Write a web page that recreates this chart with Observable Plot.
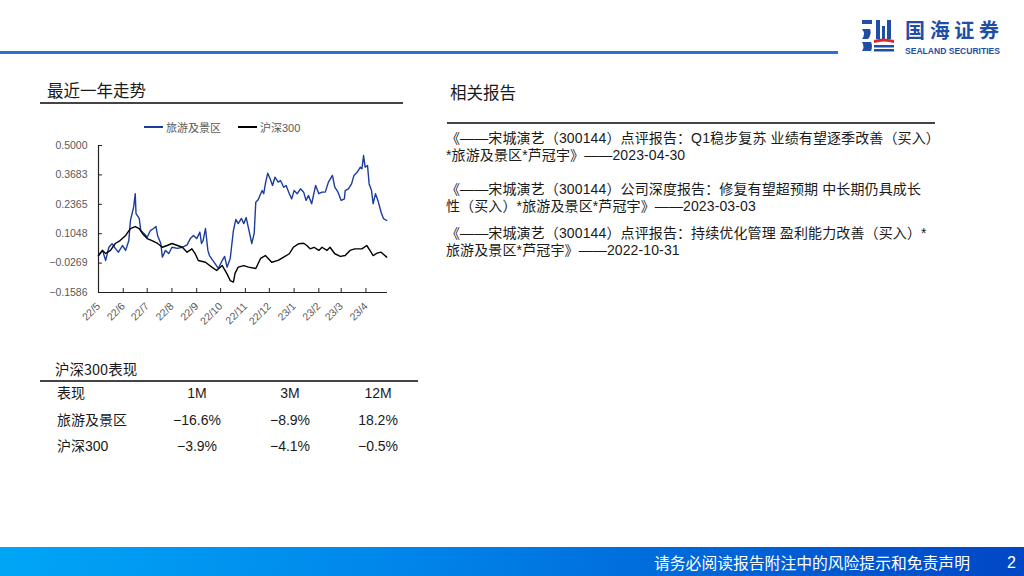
<!DOCTYPE html>
<html><head><meta charset="utf-8">
<script src="https://cdn.jsdelivr.net/npm/d3@7"></script>
<script src="https://cdn.jsdelivr.net/npm/@observablehq/plot@0.6"></script>
<style>
body{margin:0;width:1024px;height:576px;position:relative;overflow:hidden;background:#fff;font-family:"Liberation Sans","Noto Sans CJK SC",sans-serif;color:#1a1a1a;}
.abs{position:absolute;white-space:nowrap;}
.rep div{height:16.5px;line-height:16.5px;font-size:14px;}
</style></head><body>
<script>
// ---- data ----
const seriesNames = ["旅游及景区", "沪深300"];
const tourDates = ["2022-05-01","2022-05-06","2022-05-10","2022-05-14","2022-05-18","2022-05-22","2022-05-26","2022-05-31","2022-06-04","2022-06-08","2022-06-10","2022-06-14","2022-06-16","2022-06-17","2022-06-21","2022-06-23","2022-06-27","2022-07-01","2022-07-05","2022-07-09","2022-07-12","2022-07-14","2022-07-18","2022-07-20","2022-07-24","2022-07-28","2022-08-01","2022-08-08","2022-08-14","2022-08-20","2022-08-24","2022-08-28","2022-09-01","2022-09-05","2022-09-07","2022-09-09","2022-09-12","2022-09-15","2022-09-17","2022-09-24","2022-09-28","2022-10-03","2022-10-06","2022-10-09","2022-10-13","2022-10-17","2022-10-20","2022-10-23","2022-10-27","2022-10-30","2022-11-02","2022-11-05","2022-11-09","2022-11-12","2022-11-14","2022-11-17","2022-11-22","2022-11-24","2022-11-26","2022-11-29","2022-12-02","2022-12-05","2022-12-08","2022-12-12","2022-12-15","2022-12-19","2022-12-22","2022-12-26","2022-12-29","2023-01-01","2023-01-05","2023-01-09","2023-01-13","2023-01-16","2023-01-19","2023-01-23","2023-01-28","2023-02-01","2023-02-05","2023-02-09","2023-02-13","2023-02-18","2023-02-21","2023-02-25","2023-03-01","2023-03-05","2023-03-06","2023-03-10","2023-03-14","2023-03-17","2023-03-21","2023-03-25","2023-03-27","2023-03-29","2023-03-31","2023-04-03","2023-04-05","2023-04-08","2023-04-10","2023-04-13","2023-04-16","2023-04-20","2023-04-23","2023-04-27"];
const tourValues = [0.007,0.030,-0.015,0.044,0.060,0.039,0.022,0.052,0.030,0.074,0.164,0.224,0.284,0.195,0.173,0.119,0.106,0.089,0.119,0.128,0.137,0.097,0.061,0.000,0.030,0.016,0.044,0.039,0.044,0.055,0.083,0.097,0.083,0.112,0.061,0.074,0.128,0.030,0.007,-0.029,-0.051,-0.015,0.003,-0.045,-0.006,0.119,0.169,0.150,0.173,0.150,0.177,0.128,0.061,0.106,0.246,0.257,0.298,0.284,0.328,0.376,0.351,0.321,0.358,0.336,0.343,0.313,0.321,0.284,0.261,0.298,0.284,0.306,0.291,0.254,0.276,0.239,0.321,0.284,0.291,0.291,0.336,0.366,0.313,0.291,0.254,0.261,0.298,0.306,0.328,0.366,0.380,0.403,0.396,0.455,0.403,0.410,0.328,0.298,0.239,0.284,0.254,0.201,0.172,0.164];
const hsDates = ["2022-05-01","2022-05-06","2022-05-10","2022-05-16","2022-05-22","2022-05-28","2022-06-04","2022-06-10","2022-06-16","2022-06-21","2022-06-25","2022-07-01","2022-07-07","2022-07-14","2022-07-20","2022-07-26","2022-08-01","2022-08-08","2022-08-14","2022-08-20","2022-08-26","2022-08-30","2022-09-03","2022-09-12","2022-09-20","2022-09-26","2022-10-03","2022-10-09","2022-10-13","2022-10-17","2022-10-19","2022-10-23","2022-10-30","2022-11-05","2022-11-14","2022-11-20","2022-11-26","2022-12-04","2022-12-12","2022-12-19","2022-12-26","2022-12-31","2023-01-07","2023-01-13","2023-01-17","2023-01-21","2023-01-26","2023-02-01","2023-02-05","2023-02-11","2023-02-15","2023-02-21","2023-02-28","2023-03-06","2023-03-12","2023-03-18","2023-03-27","2023-04-02","2023-04-06","2023-04-10","2023-04-15","2023-04-20","2023-04-27"];
const hsValues = [0.007,0.030,0.016,0.030,0.061,0.074,0.097,0.128,0.137,0.128,0.106,0.083,0.074,0.061,0.044,0.052,0.061,0.052,0.044,0.022,0.037,0.016,-0.015,-0.023,-0.045,-0.060,-0.038,-0.075,-0.105,-0.112,-0.073,-0.045,-0.038,-0.045,-0.051,-0.006,0.007,-0.023,-0.015,0.000,0.015,0.044,0.060,0.062,0.052,0.037,0.044,0.030,0.044,0.030,0.044,0.015,0.003,0.007,0.030,0.037,0.037,0.052,0.030,0.007,0.018,0.022,0.000];
const yTicks = [-0.1586, -0.0269, 0.1048, 0.2365, 0.3683, 0.5000];
const xStart = "2022-05-01", xEnd = "2023-04-28";
const perfHeader = ["表现", "1M", "3M", "12M"];
const perf1M = [-16.6, -3.9];
const perf3M = [-8.9, -4.1];
const perf12M = [18.2, -0.5];
const reports = [
  ["《——宋城演艺（300144）点评报告：Q1稳步复苏 业绩有望逐季改善（买入）", "*旅游及景区*芦冠宇》——2023-04-30"],
  ["《——宋城演艺（300144）公司深度报告：修复有望超预期 中长期仍具成长", "性（买入）*旅游及景区*芦冠宇》——2023-03-03"],
  ["《——宋城演艺（300144）点评报告：持续优化管理 盈利能力改善（买入）*", "旅游及景区*芦冠宇》——2022-10-31"]
];
const colors = ["#1b3c9c", "#000000"];

// ---- page decoration ----
const add = (html) => document.body.insertAdjacentHTML("beforeend", html);
add(`<div class="abs" style="left:0;top:51px;width:838px;height:3px;background:#2d6fd2"></div>`);
add(`<svg class="abs" style="left:858px;top:16px" width="150" height="40" viewBox="0 0 150 40">
  <rect x="4" y="4" width="10" height="4" fill="#1f4ea6"/>
  <path d="M4 13 h8 q2 5 -2 10 h-6 q4 -5 0 -10z" fill="#1f4ea6"/>
  <path d="M4 26 h9 q2 4 0 9 h-9 q3 -4 0 -9z" fill="#1f4ea6"/>
  <rect x="18" y="4" width="4" height="19" fill="#1f4ea6"/>
  <rect x="29" y="4" width="4" height="19" fill="#1f4ea6"/>
  <rect x="24" y="10" width="3" height="13" fill="#1f4ea6"/>
  <path d="M16 24 q9 -3 20 0 v3 q-10 -3 -20 0z" fill="#e0262c"/>
  <rect x="16" y="29" width="20" height="2.5" fill="#1f4ea6"/>
  <rect x="16" y="33" width="20" height="2.5" fill="#1f4ea6"/>
  <text x="47" y="22" font-family="Noto Sans CJK SC" font-weight="bold" font-size="20" fill="#1f4ea6" textLength="94">国海证券</text>
  <text x="47" y="37.5" font-family="Liberation Sans" font-weight="bold" font-size="8.5" fill="#1f4ea6" textLength="95" lengthAdjust="spacingAndGlyphs">SEALAND SECURITIES</text>
</svg>`);
add(`<div class="abs" style="left:47px;top:78px;font-size:16.5px;font-family:'Noto Sans CJK SC'">最近一年走势</div>`);
add(`<div class="abs" style="left:40px;top:102px;width:363px;height:1.5px;background:#444"></div>`);
add(`<div class="abs" style="left:450px;top:80px;font-size:16.5px;font-family:'Noto Sans CJK SC'">相关报告</div>`);
add(`<div class="abs" style="left:447px;top:122px;width:488px;height:1.5px;background:#444"></div>`);
const repTops = [130, 181, 225];
reports.forEach((r, i) => add(`<div class="abs rep" style="left:446px;top:${repTops[i]}px;letter-spacing:0.12px">${r.map(l => `<div>${l}</div>`).join("")}</div>`));

// legend
add(`<div class="abs" style="left:144px;top:119px;font-size:11px;color:#595959;display:flex;align-items:center;gap:3px">
  <span style="display:inline-block;width:19px;height:2px;background:${colors[0]}"></span><span>${seriesNames[0]}</span>
  <span style="display:inline-block;width:19px;height:2px;background:${colors[1]};margin-left:14px"></span><span>${seriesNames[1]}</span></div>`);

// table
add(`<div class="abs" style="left:55px;top:358px;font-size:14.5px;font-family:'Noto Sans CJK SC'">沪深300表现</div>`);
add(`<div class="abs" style="left:40px;top:380px;width:378px;height:1.5px;background:#444"></div>`);
const fmt = d3.format(".1f");
const colX = [57, 197, 290, 378];
const rowY = [393, 420, 446];
const rows = [perfHeader, [seriesNames[0], fmt(perf1M[0]) + "%", fmt(perf3M[0]) + "%", fmt(perf12M[0]) + "%"], [seriesNames[1], fmt(perf1M[1]) + "%", fmt(perf3M[1]) + "%", fmt(perf12M[1]) + "%"]];
rows.forEach((row, ri) => row.forEach((cell, ci) => {
  const style = ci === 0 ? `left:${colX[0]}px;` : `left:${colX[ci] - 50}px;width:100px;text-align:center;`;
  add(`<div class="abs" style="${style}top:${rowY[ri] - 10}px;height:20px;line-height:20px;font-size:14px">${cell}</div>`);
}));

// footer
add(`<div class="abs" style="left:0;top:547px;width:1024px;height:29px;background:linear-gradient(100deg,#00a6f6 0%,#0085ea 40%,#0046c6 100%)"></div>`);
add(`<div class="abs" style="left:654px;top:552px;font-size:15.8px;line-height:22px;color:#fff;font-family:'Noto Sans CJK SC'">请务必阅读报告附注中的风险提示和免责声明</div>`);
add(`<div class="abs" style="left:1007px;top:552px;font-size:16px;line-height:22px;color:#fff">2</div>`);

// ---- chart ----
const tour = tourDates.map((d, i) => ({date: new Date(d), value: tourValues[i], series: seriesNames[0]}));
const hs = hsDates.map((d, i) => ({date: new Date(d), value: hsValues[i], series: seriesNames[1]}));
const x0 = new Date(xStart), x1 = new Date(xEnd);
const months = d3.utcMonth.range(x0, x1);
const W = 420, H = 230, mL = 98, mR = 33, mT = 35, mB = 48;
const innerW = W - mL - mR, innerH = H - mT - mB;
const chart = Plot.plot({
  width: W, height: H,
  marginLeft: mL, marginRight: mR, marginTop: mT, marginBottom: mB,
  style: {fontFamily: "Liberation Sans, sans-serif", fontSize: "10px", color: "#595959", background: "transparent", overflow: "visible"},
  x: {type: "utc", domain: [x0, x1], label: null},
  y: {domain: [yTicks[0], yTicks[yTicks.length - 1]], label: null},
  marks: [
    Plot.axisY({ticks: yTicks, tickFormat: d3.format(".4f"), tickSize: 0, tickPadding: 11, fill: "#595959", fontSize: 10.5, label: null}),
    Plot.axisX({ticks: months, tickFormat: d3.utcFormat("%y/%-m"), tickRotate: -45, tickSize: 0, tickPadding: 12, fill: "#595959", fontSize: 10.5, label: null}),
    Plot.ruleY(yTicks, {stroke: "#222", insetRight: innerW - 4}),
    Plot.ruleX(months, {stroke: "#222", insetTop: innerH - 4}),
    Plot.ruleX([x0], {stroke: "#222", strokeWidth: 1.2}),
    Plot.ruleY([yTicks[0]], {stroke: "#222", strokeWidth: 1.2}),
    Plot.lineY(tour, {x: "date", y: "value", stroke: colors[0], strokeWidth: 1.4}),
    Plot.lineY(hs, {x: "date", y: "value", stroke: colors[1], strokeWidth: 1.4})
  ]
});
chart.style.position = "absolute";
chart.style.left = "0px";
chart.style.top = "110px";
document.body.appendChild(chart);
</script>
</body></html>
